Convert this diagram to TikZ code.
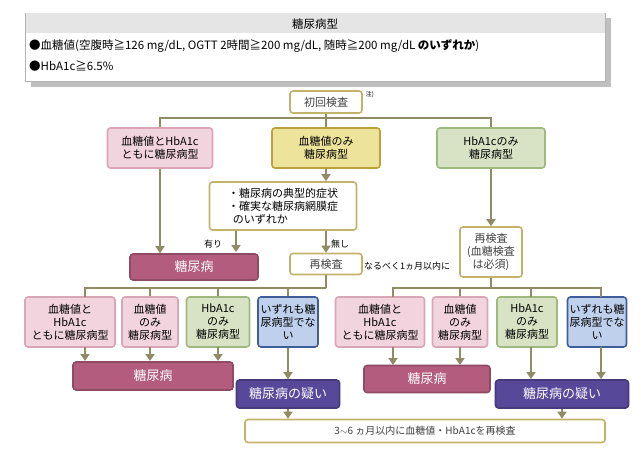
\documentclass[tikz,border=0pt]{standalone}
\usepackage{fontspec}
\setmainfont{Noto Sans CJK JP}
\usetikzlibrary{arrows.meta}
\definecolor{lnol}{HTML}{8E8B65}
\definecolor{pkfill}{HTML}{F2D4DE}
\definecolor{pkdraw}{HTML}{D8A6B7}
\definecolor{ylfill}{HTML}{EEE39B}
\definecolor{yldraw}{HTML}{B8A23A}
\definecolor{grfill}{HTML}{D7E3C4}
\definecolor{grdraw}{HTML}{9FB87D}
\definecolor{blfill}{HTML}{BFD0EC}
\definecolor{bldraw}{HTML}{3E5E9A}
\definecolor{dkpink}{HTML}{B35C7D}
\definecolor{purp}{HTML}{58489A}
\definecolor{wtdraw}{HTML}{C2B26A}
\begin{document}
\begin{tikzpicture}[x=1pt,y=-1pt,
  >={Triangle[width=9pt,length=7pt]},
  box/.style={draw, rounded corners=3pt, line width=1.6pt, align=center, inner sep=1pt,
    font=\fontsize{11}{13}\selectfont},
  pk/.style={box, fill=pkfill, draw=pkdraw},
  yl/.style={box, fill=ylfill, draw=yldraw},
  gr/.style={box, fill=grfill, draw=grdraw},
  bl/.style={box, fill=blfill, draw=bldraw},
  wt/.style={box, fill=white, draw=wtdraw, text=black!75},
  dk/.style={box, fill=dkpink, draw=dkpink!80!black, text=white, font=\fontsize{13}{15}\selectfont},
  pu/.style={box, fill=purp, draw=purp!80!black, text=white, font=\fontsize{13}{15}\selectfont},
  flow/.style={draw=lnol, line width=2.4pt},
  lbl/.style={font=\fontsize{9}{11}\selectfont, inner sep=1pt}]
\useasboundingbox (0,0) rectangle (643,452);
% criteria header
\fill[black!25] (31,18) rectangle (611,87);
\draw[black!30, fill=white] (25,13) rectangle (605,81);
\fill[black!10] (25.5,13.5) rectangle (604.5,33);
\node (title) at (315,24) {\fontsize{11.5}{13}\selectfont 糖尿病型};
\node[anchor=west, inner sep=0pt] (crit1) at (29,46) {\fontsize{11.5}{13}\selectfont ●血糖値(空腹時≧126 mg/dL, OGTT 2時間≧200 mg/dL, 随時≧200 mg/dL \textbf{のいずれか})};
\node[anchor=west, inner sep=0pt] (crit2) at (29,66) {\fontsize{11.5}{13}\selectfont ●HbA1c≧6.5\%};
% first test
\node[wt, minimum width=72pt, minimum height=22pt] (first) at (326,102) {初回検査};
\node[lbl, font=\fontsize{6}{7}\selectfont] (note) at (370,95) {注)};
\node[pk, minimum width=105pt, minimum height=40pt] (both) at (160,148) {血糖値とHbA1c\\ともに糖尿病型};
\node[yl, minimum width=108pt, minimum height=40pt] (bgonly) at (326,148) {血糖値のみ\\糖尿病型};
\node[gr, minimum width=108pt, minimum height=40pt] (a1conly) at (491,148) {HbA1cのみ\\糖尿病型};
\node[wt, text=black, minimum width=147pt, minimum height=48pt, align=left] (symp) at (283,206) {・糖尿病の典型的症状\\・確実な糖尿病網膜症\\\ \ のいずれか};
\node[dk, minimum width=128pt, minimum height=26pt] (dm1) at (194,267) {糖尿病};
\node[wt, minimum width=72pt, minimum height=21pt] (retest) at (326,264) {再検査};
\node[lbl] (soon) at (407,266) {なるべく1ヵ月以内に};
\node[wt, minimum width=62pt, minimum height=50pt] (retest2) at (491,252) {再検査\\(血糖検査\\は必須)};
% second row, left
\node[pk, minimum width=90pt, minimum height=50pt] (lboth) at (70,322) {血糖値と\\HbA1c\\ともに糖尿病型};
\node[pk, minimum width=56pt, minimum height=50pt] (lbg) at (150,322) {血糖値\\のみ\\糖尿病型};
\node[gr, minimum width=63pt, minimum height=50pt] (la1c) at (218,322) {HbA1c\\のみ\\糖尿病型};
\node[bl, minimum width=60pt, minimum height=50pt] (lnone) at (288,322) {いずれも糖\\尿病型でな\\い};
% second row, right
\node[pk, minimum width=89pt, minimum height=50pt] (rboth) at (380,322) {血糖値と\\HbA1c\\ともに糖尿病型};
\node[pk, minimum width=55pt, minimum height=50pt] (rbg) at (460,322) {血糖値\\のみ\\糖尿病型};
\node[gr, minimum width=60pt, minimum height=50pt] (ra1c) at (527,322) {HbA1c\\のみ\\糖尿病型};
\node[bl, minimum width=59pt, minimum height=50pt] (rnone) at (597,322) {いずれも糖\\尿病型でな\\い};
\node[dk, minimum width=160pt, minimum height=28pt] (dm2) at (153,376) {糖尿病};
\node[pu, minimum width=103pt, minimum height=28pt] (sus1) at (288,394) {糖尿病の疑い};
\node[dk, minimum width=126pt, minimum height=27pt] (dm3) at (427,379) {糖尿病};
\node[pu, minimum width=133pt, minimum height=28pt] (sus2) at (562,394) {糖尿病の疑い};
\node[wt, minimum width=360pt, minimum height=23pt, font=\fontsize{10}{12}\selectfont] (final) at (425,431) {3$\sim$6 ヵ月以内に血糖値・HbA1cを再検査};
% connectors
\coordinate (j1) at (326,118);
\draw[flow] (first) -- (j1);
\draw[flow] (both.north) |- (j1) -| (a1conly.north);
\draw[flow] (j1) -- (bgonly.north);
\draw[flow,->] (bgonly) -- (symp.north -| bgonly);
\draw[flow,->] (both) -- (both |- dm1.north);
\draw[flow,->] (symp.south -| 236,0) -- (236,252);
\node[lbl] (yes) at (213,244) {有り};
\draw[flow,->] (symp.south -| bgonly) -- (retest);
\node[lbl] (no) at (340,244) {無し};
\draw[flow,->] (a1conly) -- (retest2);
\coordinate (j2) at (326,288);
\draw[flow] (retest) -- (j2);
\draw[flow] (85,297) |- (j2) -| (lnone.north);
\draw[flow] (lbg.north) -- (lbg |- j2);
\draw[flow] (la1c.north) -- (la1c |- j2);
\coordinate (j3) at (491,288);
\draw[flow] (retest2) -- (j3);
\draw[flow] (393,297) |- (j3) -| (601,297);
\draw[flow] (rbg.north) -- (rbg |- j3);
\draw[flow] (531,297) -- (531,288);
\foreach \x in {85,150,218}
  \draw[flow,->] (\x,347) -- (\x,361);
\draw[flow,->] (lnone) -- (sus1);
\foreach \x in {393,460}
  \draw[flow,->] (\x,347) -- (\x,365);
\draw[flow,->] (531,347) -- (531,379);
\draw[flow,->] (601,347) -- (601,379);
\draw[flow,->] (sus1) -- (sus1 |- final.north);
\draw[flow,->] (sus2) -- (sus2 |- final.north);
\end{tikzpicture}
\end{document}
